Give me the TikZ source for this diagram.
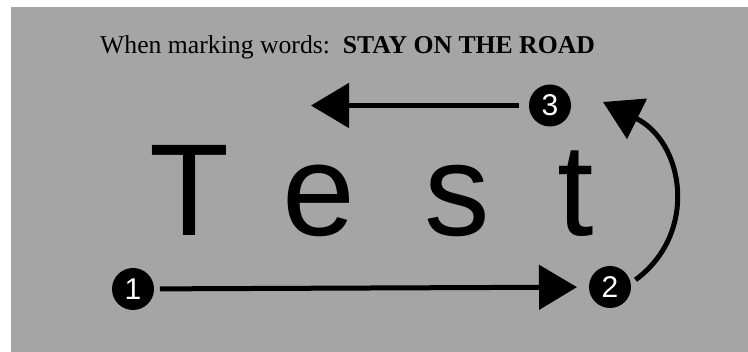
\documentclass[tikz,border=0pt]{standalone}
\usepackage{fontspec}
\setmainfont{Liberation Serif}
\newfontfamily\helv{Liberation Sans}
\usetikzlibrary{arrows.meta}
\definecolor{bg}{RGB}{165,165,165}
\begin{document}
\begin{tikzpicture}[x=1pt,y=-1pt,
 num/.style={circle,fill=black,text=white,minimum size=42pt,inner sep=0pt,outer sep=0pt,font=\helv\fontsize{30}{30}\selectfont},
 letter/.style={anchor=base west,inner sep=0pt,font=\helv\fontsize{131}{131}\selectfont},
 conn/.style={line width=5pt,-{Triangle[length=38pt,width=44pt]}}]
\useasboundingbox (0,0) rectangle (748,352);
\fill[bg] (11,7) rectangle (748,352);
\node[anchor=base west,inner sep=0pt,font=\fontsize{25.7}{25.7}\selectfont] (title) at (100,54) {When marking words:\ \ \textbf{STAY ON THE ROAD}};
\node[letter] (lT) at (149,236) {T};
\node[letter] (le) at (282,236) {e};
\node[letter] (ls) at (424,236) {s};
\node[letter] (lt) at (557,236) {t};
\node[num] (n1) at (133,289) {1};
\node[num] (n2) at (610,287) {2};
\node[num] (n3) at (550,105.5) {3};
\coordinate (a3) at (311,105.5);
\coordinate (a2) at (603,102);
\draw[conn,shorten <=6pt,shorten >=12pt] (n1) -- (n2);
\draw[conn,shorten <=10pt] (n3) -- (a3);
\draw[conn,shorten <=6pt] (n2.10) .. controls (699,233) and (684,142) .. (a2);
\end{tikzpicture}
\end{document}
